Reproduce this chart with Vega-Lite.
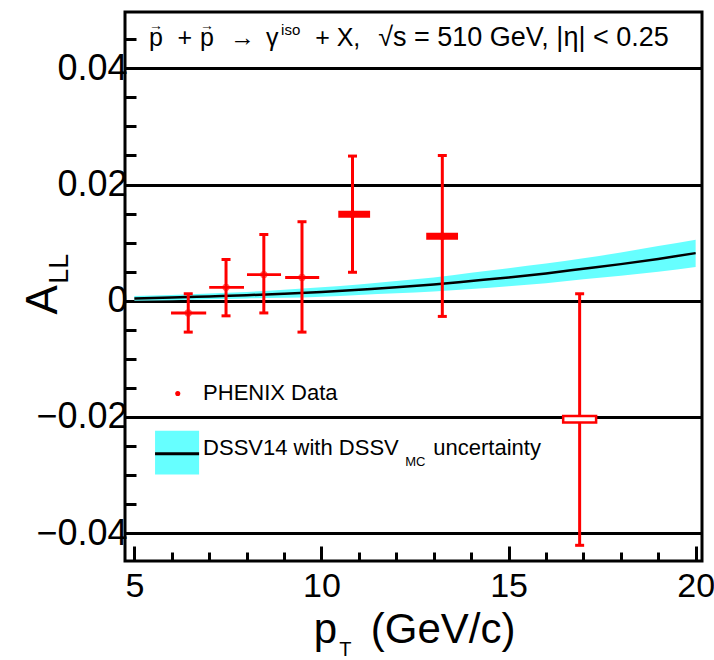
{
  "$schema": "https://vega.github.io/schema/vega-lite/v6.json",
  "width": 577,
  "height": 549,
  "autosize": "none",
  "padding": {"left": 125, "top": 12, "right": 12, "bottom": 99},
  "background": "white",
  "config": {
    "view": {"stroke": "black", "strokeWidth": 3},
    "font": "Liberation Sans",
    "text": {"font": "Liberation Sans", "color": "black"}
  },
  "datasets": {
    "phenix": [
      {"pT": 6.44, "A": -0.0021, "lo": -0.0054, "hi": 0.0012, "xlo": 5.98, "xhi": 6.92, "sys_lo": -0.00235, "sys_hi": -0.00185},
      {"pT": 7.45, "A": 0.0023, "lo": -0.0026, "hi": 0.0071, "xlo": 7.0, "xhi": 7.93, "sys_lo": 0.00205, "sys_hi": 0.00255},
      {"pT": 8.46, "A": 0.0045, "lo": -0.0021, "hi": 0.0114, "xlo": 8.01, "xhi": 8.92, "sys_lo": 0.00425, "sys_hi": 0.00475},
      {"pT": 9.48, "A": 0.0040, "lo": -0.0054, "hi": 0.0136, "xlo": 9.03, "xhi": 9.94, "sys_lo": 0.00375, "sys_hi": 0.00425},
      {"pT": 10.83, "A": 0.0149, "lo": 0.0049, "hi": 0.0249, "xlo": 10.45, "xhi": 11.30, "sys_lo": 0.0143, "sys_hi": 0.0155},
      {"pT": 13.23, "A": 0.0111, "lo": -0.0027, "hi": 0.0250, "xlo": 12.8, "xhi": 13.65, "sys_lo": 0.0105, "sys_hi": 0.0117},
      {"pT": 16.9, "A": -0.0204, "lo": -0.0421, "hi": 0.0012, "xlo": 16.46, "xhi": 17.34, "sys_lo": -0.02097, "sys_hi": -0.01983}
    ],
    "dssv": [
      {"pT": 5, "A": 0.0004, "lo": 0.0000, "hi": 0.0008},
      {"pT": 6, "A": 0.00055, "lo": 0.0001, "hi": 0.001},
      {"pT": 7, "A": 0.00075, "lo": 0.00025, "hi": 0.00125},
      {"pT": 8, "A": 0.00095, "lo": 0.0004, "hi": 0.0015},
      {"pT": 9, "A": 0.0012, "lo": 0.0005, "hi": 0.0019},
      {"pT": 10, "A": 0.0015, "lo": 0.0007, "hi": 0.0023},
      {"pT": 11, "A": 0.0019, "lo": 0.001, "hi": 0.0028},
      {"pT": 12, "A": 0.0023, "lo": 0.0013, "hi": 0.0034},
      {"pT": 13, "A": 0.0028, "lo": 0.0016, "hi": 0.004},
      {"pT": 14, "A": 0.0034, "lo": 0.002, "hi": 0.0048},
      {"pT": 15, "A": 0.004, "lo": 0.0025, "hi": 0.0056},
      {"pT": 16, "A": 0.0047, "lo": 0.003, "hi": 0.0064},
      {"pT": 17, "A": 0.0055, "lo": 0.0037, "hi": 0.0073},
      {"pT": 18, "A": 0.0063, "lo": 0.0043, "hi": 0.0083},
      {"pT": 19, "A": 0.0072, "lo": 0.005, "hi": 0.0094},
      {"pT": 20, "A": 0.0082, "lo": 0.0058, "hi": 0.0105}
    ],
    "one": [{}]
  },
  "encoding": {
    "x": {
      "type": "quantitative",
      "scale": {"domain": [4.75, 20.17], "nice": false, "zero": false},
      "axis": {
        "values": [5, 6, 7, 8, 9, 10, 11, 12, 13, 14, 15, 16, 17, 18, 19, 20],
        "format": "d",
        "labelExpr": "datum.value % 5 === 0 ? datum.label : ''",
        "tickSize": {"condition": {"test": "datum.value % 5 === 0", "value": -15}, "value": -9},
        "tickWidth": 3,
        "tickColor": "black",
        "domain": false,
        "grid": false,
        "labelFont": "Liberation Sans",
        "labelFontSize": 34,
        "labelColor": "black",
        "labelPadding": 23,
        "labelFlush": false,
        "labelOverlap": false,
        "title": null
      }
    },
    "y": {
      "type": "quantitative",
      "scale": {"domain": [-0.0448, 0.0497], "nice": false, "zero": false},
      "axis": {
        "values": [-0.04, -0.035, -0.03, -0.025, -0.02, -0.015, -0.01, -0.005, 0, 0.005, 0.01, 0.015, 0.02, 0.025, 0.03, 0.035, 0.04, 0.045],
        "format": ".2~f",
        "labelExpr": "abs(datum.value*50 - round(datum.value*50)) < 0.001 ? datum.label : ''",
        "tickSize": -11,
        "tickWidth": 3,
        "tickColor": "black",
        "domain": false,
        "grid": true,
        "gridColor": "black",
        "gridWidth": 3,
        "gridOpacity": {"condition": {"test": "abs(datum.value*50 - round(datum.value*50)) < 0.001", "value": 1}, "value": 0},
        "labelFont": "Liberation Sans",
        "labelFontSize": 36,
        "labelColor": "black",
        "labelPadding": 9,
        "labelFlush": false,
        "labelOverlap": false,
        "title": null
      }
    }
  },
  "layer": [
    {
      "data": {"name": "dssv"},
      "mark": {"type": "area", "color": "#66ffff", "opacity": 1, "interpolate": "monotone"},
      "encoding": {"x": {"field": "pT"}, "y": {"field": "lo"}, "y2": {"field": "hi"}}
    },
    {
      "data": {"name": "dssv"},
      "mark": {"type": "line", "color": "black", "strokeWidth": 2.5, "interpolate": "monotone"},
      "encoding": {"x": {"field": "pT"}, "y": {"field": "A"}}
    },
    {
      "data": {"name": "phenix"},
      "mark": {"type": "point", "shape": "circle", "filled": true, "color": "#ff6a6a", "size": 55, "opacity": 1},
      "encoding": {"x": {"field": "pT"}, "y": {"field": "A"}}
    },
    {
      "data": {"name": "phenix"},
      "mark": {"type": "rule", "color": "#ff0000", "strokeWidth": 3},
      "encoding": {"x": {"field": "pT"}, "y": {"field": "lo"}, "y2": {"field": "hi"}}
    },
    {
      "data": {"name": "phenix"},
      "mark": {"type": "tick", "orient": "horizontal", "color": "#ff0000", "size": 9, "thickness": 3, "opacity": 1},
      "encoding": {"x": {"field": "pT"}, "y": {"field": "lo"}}
    },
    {
      "data": {"name": "phenix"},
      "mark": {"type": "tick", "orient": "horizontal", "color": "#ff0000", "size": 9, "thickness": 3, "opacity": 1},
      "encoding": {"x": {"field": "pT"}, "y": {"field": "hi"}}
    },
    {
      "data": {"name": "phenix"},
      "mark": {"type": "rect", "stroke": "#ff0000", "opacity": 1},
      "encoding": {
        "x": {"field": "xlo"},
        "x2": {"field": "xhi"},
        "y": {"field": "sys_lo"},
        "y2": {"field": "sys_hi"},
        "fill": {"condition": {"test": "datum.pT > 15", "value": "white"}, "value": "#ff0000"},
        "strokeWidth": {"condition": {"test": "datum.pT > 15", "value": 2.5}, "value": 0}
      }
    },
    {
      "data": {"name": "one"},
      "mark": {"type": "point", "shape": "circle", "filled": true, "color": "#ff0000", "size": 26, "opacity": 1},
      "encoding": {"x": {"datum": 6.16}, "y": {"datum": -0.01596}}
    },
    {
      "data": {"name": "one"},
      "mark": {"type": "rect", "fill": "#66ffff"},
      "encoding": {"x": {"datum": 5.553}, "x2": {"datum": 6.73}, "y": {"datum": -0.02238}, "y2": {"datum": -0.02991}}
    },
    {
      "data": {"name": "one"},
      "mark": {"type": "rule", "color": "black", "strokeWidth": 3},
      "encoding": {"x": {"datum": 5.553}, "x2": {"datum": 6.73}, "y": {"datum": -0.02635}}
    },
    {
      "data": {"name": "one"},
      "mark": {"type": "text", "text": "PHENIX Data", "fontSize": 22, "align": "left", "baseline": "middle"},
      "encoding": {"x": {"datum": 6.837}, "y": {"datum": -0.01596}}
    },
    {
      "data": {"name": "one"},
      "mark": {"type": "text", "text": "DSSV14 with DSSV", "fontSize": 22, "align": "left", "baseline": "middle"},
      "encoding": {"x": {"datum": 6.837}, "y": {"datum": -0.02531}}
    },
    {
      "data": {"name": "one"},
      "mark": {"type": "text", "text": "MC", "fontSize": 13, "align": "left", "baseline": "middle"},
      "encoding": {"x": {"datum": 12.238}, "y": {"datum": -0.02772}}
    },
    {
      "data": {"name": "one"},
      "mark": {"type": "text", "text": "uncertainty", "fontSize": 22, "align": "left", "baseline": "middle"},
      "encoding": {"x": {"datum": 12.99}, "y": {"datum": -0.02531}}
    },
    {
      "data": {"name": "one"},
      "mark": {"type": "text", "text": "p", "fontSize": 25, "align": "left", "baseline": "alphabetic"},
      "encoding": {"x": {"datum": 5.393}, "y": {"datum": 0.04391}}
    },
    {
      "data": {"name": "one"},
      "mark": {"type": "text", "text": "→", "fontSize": 14, "align": "center", "baseline": "middle"},
      "encoding": {"x": {"datum": 5.58}, "y": {"datum": 0.04725}}
    },
    {
      "data": {"name": "one"},
      "mark": {"type": "text", "text": "+", "fontSize": 25, "align": "left", "baseline": "alphabetic"},
      "encoding": {"x": {"datum": 6.152}, "y": {"datum": 0.04391}}
    },
    {
      "data": {"name": "one"},
      "mark": {"type": "text", "text": "p", "fontSize": 25, "align": "left", "baseline": "alphabetic"},
      "encoding": {"x": {"datum": 6.757}, "y": {"datum": 0.04391}}
    },
    {
      "data": {"name": "one"},
      "mark": {"type": "text", "text": "→", "fontSize": 14, "align": "center", "baseline": "middle"},
      "encoding": {"x": {"datum": 6.944}, "y": {"datum": 0.04725}}
    },
    {
      "data": {"name": "one"},
      "mark": {"type": "text", "text": "→", "fontSize": 25, "align": "left", "baseline": "alphabetic"},
      "encoding": {"x": {"datum": 7.559}, "y": {"datum": 0.04391}}
    },
    {
      "data": {"name": "one"},
      "mark": {"type": "text", "text": "γ", "fontSize": 25, "align": "left", "baseline": "alphabetic"},
      "encoding": {"x": {"datum": 8.521}, "y": {"datum": 0.04391}}
    },
    {
      "data": {"name": "one"},
      "mark": {"type": "text", "text": "iso", "fontSize": 15, "align": "left", "baseline": "alphabetic"},
      "encoding": {"x": {"datum": 8.922}, "y": {"datum": 0.0458}}
    },
    {
      "data": {"name": "one"},
      "mark": {"type": "text", "text": "+ X,", "fontSize": 25, "align": "left", "baseline": "alphabetic"},
      "encoding": {"x": {"datum": 9.831}, "y": {"datum": 0.04391}}
    },
    {
      "data": {"name": "one"},
      "mark": {"type": "text", "text": "√s = 510 GeV, |η| < 0.25", "fontSize": 27, "align": "left", "baseline": "alphabetic"},
      "encoding": {"x": {"datum": 11.516}, "y": {"datum": 0.04391}}
    },
    {
      "data": {"name": "one"},
      "mark": {"type": "text", "text": "p", "fontSize": 42, "align": "left", "baseline": "alphabetic"},
      "encoding": {"x": {"datum": 9.797}, "y": {"datum": -0.05889}}
    },
    {
      "data": {"name": "one"},
      "mark": {"type": "text", "text": "T", "fontSize": 20, "align": "left", "baseline": "alphabetic"},
      "encoding": {"x": {"datum": 10.473}, "y": {"datum": -0.0611}}
    },
    {
      "data": {"name": "one"},
      "mark": {"type": "text", "text": "(GeV/c)", "fontSize": 42, "align": "left", "baseline": "alphabetic"},
      "encoding": {"x": {"datum": 11.318}, "y": {"datum": -0.05889}}
    },
    {
      "data": {"name": "one"},
      "mark": {"type": "text", "text": "A", "fontSize": 44, "angle": 270, "align": "center", "baseline": "alphabetic"},
      "encoding": {"x": {"datum": 2.925}, "y": {"datum": 0.00017}}
    },
    {
      "data": {"name": "one"},
      "mark": {"type": "text", "text": "LL", "fontSize": 27, "angle": 270, "align": "center", "baseline": "alphabetic"},
      "encoding": {"x": {"datum": 3.227}, "y": {"datum": 0.00551}}
    }
  ]
}
